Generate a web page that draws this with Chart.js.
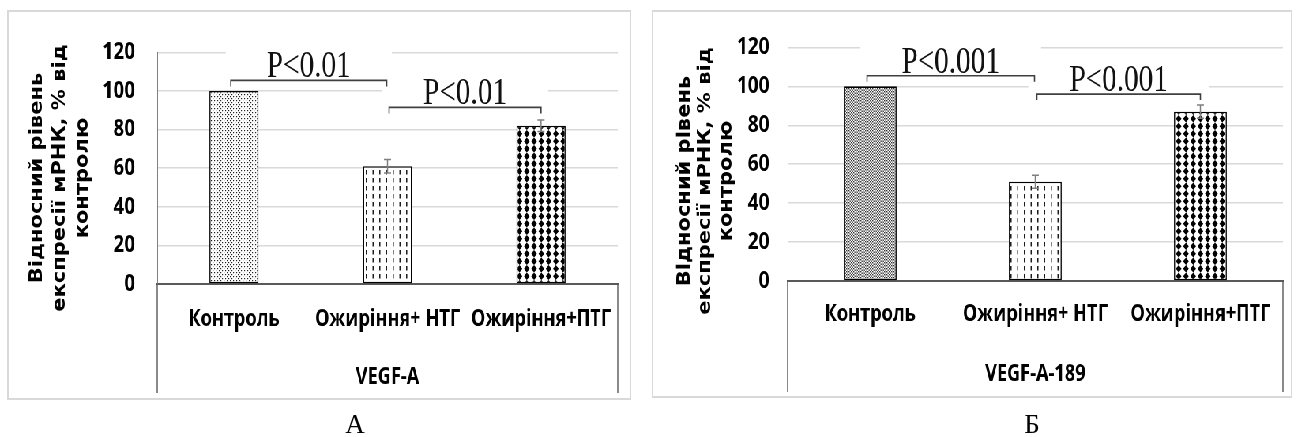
<!DOCTYPE html>
<html>
<head>
<meta charset="utf-8">
<script src="https://cdn.jsdelivr.net/npm/chart.js@4.4.1/dist/chart.umd.min.js"></script>
<style>
  html, body { margin: 0; padding: 0; background: #fff; width: 1296px; height: 437px; overflow: hidden; }
  /* both panels are laid out on a wider stage and narrowed horizontally as a whole */
  #stage { position: absolute; left: 0; top: 0; width: 1641px; height: 437px; transform: scaleX(0.79); transform-origin: 0 0; }
  #stage canvas { position: absolute; display: block; }
  .letter { position: absolute; font-family: 'Liberation Serif', 'Times New Roman', serif; font-size: 27px; line-height: 27px; color: #000; transform: translateX(-50%); }
</style>
</head>
<body>
<div id="stage">
  <canvas id="chartA" width="790" height="390" style="left:9px;top:10px"></canvas>
  <canvas id="chartB" width="811" height="388" style="left:825px;top:10px"></canvas>
</div>
<div class="letter" style="left:355px;top:411px">А</div>
<div class="letter" style="left:1032px;top:411px">Б</div>

<script>
// ---- shared labels ----
const categories = ['Контроль', 'Ожиріння+ НТГ', 'Ожиріння+ПТГ'];
const yTickValues = [0, 20, 40, 60, 80, 100, 120];
const yTitleLines = ['Відносний рівень', 'експресії мРНК, % від', 'контролю'];

// ---- panel A: VEGF-A ----
const geneA = 'VEGF-A';
const meanA = [100, 61, 82];
const errA = [0, 3.5, 3];
const pairsA = [[0, 1], [1, 2]];
const levelsA = [105.5, 91.5];
const pLabelsA = ['P<0.01', 'P<0.01'];

// ---- panel B: VEGF-A-189 ----
const geneB = 'VEGF-A-189';
const meanB = [100, 51, 87];
const errB = [0, 3.3, 3.4];
const pairsB = [[0, 1], [1, 2]];
const levelsB = [105.4, 96];
const pLabelsB = ['P<0.001', 'P<0.001'];

const TITLE_WIDEN = 1.1;
const LABEL_FONT = "'Open Sans', 'Liberation Sans', sans-serif";

// Monochrome hatch fills (drawn at 2x and scaled back so periods can be fractional)
function makePattern(w, h, paint) {
  const c = document.createElement('canvas');
  c.width = Math.round(w * 2);
  c.height = Math.round(h * 2);
  const g = c.getContext('2d');
  g.fillStyle = '#fff';
  g.fillRect(0, 0, c.width, c.height);
  g.scale(c.width / w, c.height / h);
  paint(g, w, h);
  const p = g.createPattern(c, 'repeat');
  p.setTransform(new DOMMatrix([w / c.width, 0, 0, h / c.height, 0, 0]));
  return p;
}

const fineDots = makePattern(4, 4, (g) => {
  g.fillStyle = '#222';
  g.fillRect(0, 0, 1.2, 1.2);
  g.fillRect(2, 2, 1.2, 1.2);
});
const denseDots = makePattern(3, 3, (g) => {
  g.fillStyle = '#333';
  g.fillRect(0, 0, 1.4, 1.4);
  g.fillRect(1.5, 1.5, 1.4, 1.4);
});
const vertDashes = makePattern(8.5, 8, (g, w) => {
  g.fillStyle = '#111';
  g.fillRect(w / 2 - 0.7, 0, 1.4, 4.5);
});
const diamonds = makePattern(9.2, 7.5, (g, w, h) => {
  g.fillStyle = '#000';
  g.beginPath();
  g.moveTo(w / 2, h / 2 - 3.7);
  g.lineTo(w / 2 + 3.6, h / 2);
  g.lineTo(w / 2, h / 2 + 3.7);
  g.lineTo(w / 2 - 3.6, h / 2);
  g.closePath();
  g.fill();
});

// Error bars, significance brackets, axis title and category frame
const sigPlugin = {
  id: 'sig',
  afterDatasetsDraw(chart, args, opts) {
    const { ctx } = chart;
    const xs = chart.scales.x, ys = chart.scales.y;
    const meta = chart.getDatasetMeta(0);
    const values = chart.data.datasets[0].data;
    ctx.save();

    // error bars
    ctx.strokeStyle = '#808080';
    ctx.lineWidth = 1.5;
    opts.errors.forEach((e, i) => {
      if (!e) return;
      const cx = meta.data[i].x;
      const yt = ys.getPixelForValue(values[i] + e);
      const yb = ys.getPixelForValue(values[i] - e);
      ctx.beginPath();
      ctx.moveTo(cx, yt); ctx.lineTo(cx, yb);
      ctx.moveTo(cx - 4.5, yt); ctx.lineTo(cx + 4.5, yt);
      ctx.moveTo(cx - 4.5, yb); ctx.lineTo(cx + 4.5, yb);
      ctx.stroke();
    });

    // bracket geometry
    ctx.font = "37px 'Liberation Serif', 'Times New Roman', serif";
    const items = opts.pairs.map(([a, b], k) => {
      const x1 = xs.getPixelForValue(a) + (a === 0 ? -4 : 2);
      const x2 = xs.getPixelForValue(b) + (b === 1 ? -1 : 0);
      const yl = ys.getPixelForValue(opts.levels[k]);
      const w = ctx.measureText(opts.labels[k]).width;
      return { x1, x2, yl, w, cx: (x1 + x2) / 2, text: opts.labels[k] };
    });

    // white label boxes hide the gridlines behind the text
    ctx.fillStyle = '#fff';
    items.forEach(it => ctx.fillRect(it.cx - it.w / 2 - 52, it.yl - 29, it.w + 104, 27));

    items.forEach(it => {
      ctx.fillStyle = '#111';
      ctx.textAlign = 'center';
      ctx.textBaseline = 'alphabetic';
      ctx.fillText(it.text, it.cx, it.yl - 3);
      ctx.strokeStyle = '#404040';
      ctx.lineWidth = 1.6;
      ctx.beginPath();
      ctx.moveTo(it.x1, it.yl + 6);
      ctx.lineTo(it.x1, it.yl);
      ctx.lineTo(it.x2, it.yl);
      ctx.lineTo(it.x2, it.yl + 6);
      ctx.stroke();
    });
    ctx.restore();
  },
  afterDraw(chart, args, opts) {
    const { ctx, chartArea } = chart;
    const xs = chart.scales.x;
    ctx.save();
    // category box sides
    ctx.strokeStyle = '#595959';
    ctx.lineWidth = 1.4;
    ctx.beginPath();
    ctx.moveTo(chartArea.left, chartArea.bottom); ctx.lineTo(chartArea.left, xs.bottom);
    ctx.moveTo(chartArea.right, chartArea.bottom); ctx.lineTo(chartArea.right, xs.bottom);
    ctx.stroke();

    // rotated value-axis title
    ctx.font = "bold 21px 'DejaVu Sans', Verdana, sans-serif";
    ctx.fillStyle = '#000';
    ctx.textAlign = 'center';
    ctx.textBaseline = 'middle';
    opts.titleLines.forEach((t, i) => {
      ctx.save();
      ctx.translate(opts.titleX + i * opts.titleStep, opts.titleY);
      ctx.scale(TITLE_WIDEN, 1);
      ctx.rotate(-Math.PI / 2);
      ctx.fillText(t, 0, 0);
      ctx.restore();
    });

    // chart frame
    ctx.strokeStyle = '#d9d9d9';
    ctx.lineWidth = 2;
    ctx.strokeRect(1, 1, chart.width - 2, chart.height - 2);
    ctx.restore();
  }
};

function buildChart(id, cfg) {
  return new Chart(document.getElementById(id), {
    type: 'bar',
    data: {
      labels: categories,
      datasets: [{
        data: cfg.values,
        backgroundColor: cfg.fills,
        borderColor: '#000',
        borderWidth: 1.6,
        borderSkipped: false,
        barPercentage: 0.32,
        categoryPercentage: 1
      }]
    },
    options: {
      responsive: false,
      animation: false,
      devicePixelRatio: 1,
      layout: { padding: { left: 0, right: cfg.padRight, top: cfg.top, bottom: cfg.padBottom } },
      plugins: {
        legend: { display: false },
        tooltip: { enabled: false },
        sig: {
          errors: cfg.errors, pairs: cfg.pairs, levels: cfg.levels, labels: cfg.pLabels,
          titleLines: yTitleLines, titleX: cfg.titleX, titleStep: cfg.titleStep, titleY: cfg.titleY
        }
      },
      scales: {
        x: {
          type: 'category',
          offset: true,
          grid: { display: false, drawTicks: false },
          border: { display: true, color: '#595959', width: 2 },
          ticks: { color: '#000', font: { family: LABEL_FONT, size: 23, weight: '700' }, padding: cfg.catPad, maxRotation: 0, autoSkip: false },
          title: { display: true, text: cfg.gene, color: '#000', font: { family: LABEL_FONT, size: 23, weight: '700' }, padding: { top: 0, bottom: cfg.genePad } },
          afterFit: (s) => { s.height = cfg.axisH; }
        },
        y: {
          min: 0,
          max: 120,
          afterBuildTicks: (s) => { s.ticks = yTickValues.map(v => ({ value: v })); },
          grid: { color: '#d9d9d9', lineWidth: 1.5, drawTicks: false },
          border: { display: true, color: '#808080', width: 1 },
          ticks: { color: '#000', font: { family: LABEL_FONT, size: 24, weight: '700' }, padding: cfg.tickPad },
          afterFit: (s) => { s.width = cfg.plotLeft; }
        }
      }
    },
    plugins: [sigPlugin]
  });
}

buildChart('chartA', {
  values: meanA, errors: errA, pairs: pairsA, levels: levelsA, pLabels: pLabelsA, gene: geneA,
  fills: [fineDots, vertDashes, diamonds],
  plotLeft: 190, padRight: 17, top: 25, padBottom: 7, axisH: 109,
  tickPad: 28, catPad: 22, genePad: 2,
  titleX: 38, titleStep: 29, titleY: 168
});

buildChart('chartB', {
  values: meanB, errors: errB, pairs: pairsB, levels: levelsB, pLabels: pLabelsB, gene: geneB,
  fills: [denseDots, vertDashes, diamonds],
  plotLeft: 172, padRight: 12, top: 25, padBottom: 6, axisH: 111,
  tickPad: 23, catPad: 20, genePad: 4,
  titleX: 42, titleStep: 26.5, titleY: 171
});
</script>
</body>
</html>
